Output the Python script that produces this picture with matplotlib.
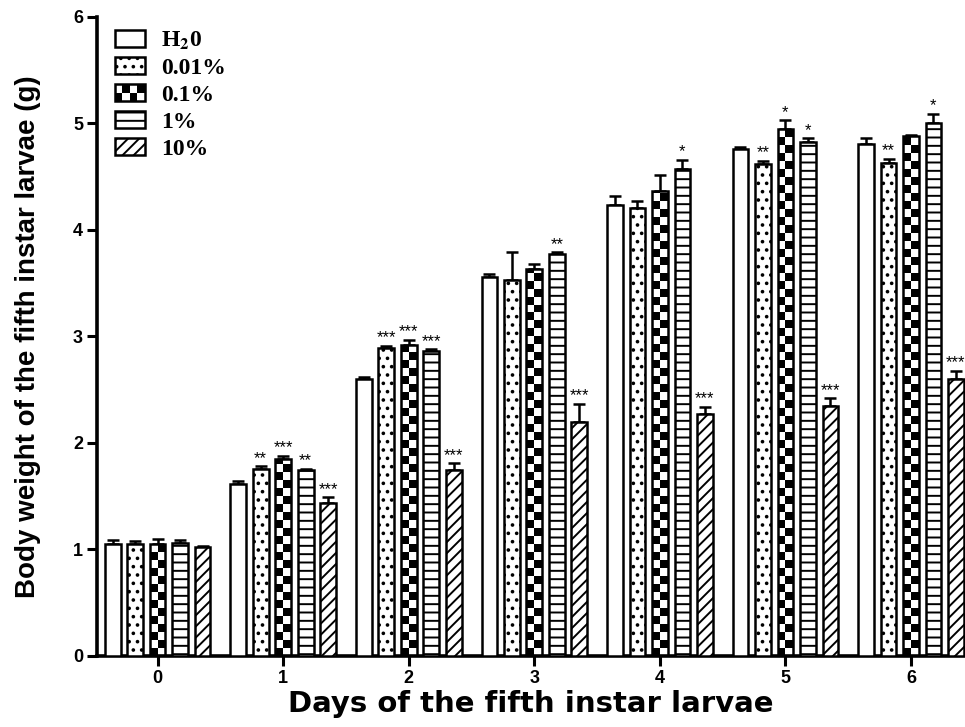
import math
import matplotlib
matplotlib.use("Agg")
import matplotlib.pyplot as plt
from matplotlib.patches import Rectangle
from matplotlib.legend_handler import HandlerBase
import numpy as np

# --- data ---
days = [0, 1, 2, 3, 4, 5, 6]
groups = ["H$_{\\mathbf{2}}$0", "0.01%", "0.1%", "1%", "10%"]

h2o     = [1.05, 1.61, 2.60, 3.56, 4.23, 4.76, 4.81]
c001    = [1.05, 1.76, 2.89, 3.53, 4.21, 4.62, 4.63]
c01     = [1.05, 1.85, 2.92, 3.63, 4.37, 4.95, 4.88]
c1      = [1.06, 1.75, 2.86, 3.77, 4.57, 4.83, 5.00]
c10     = [1.02, 1.44, 1.75, 2.20, 2.27, 2.35, 2.60]

h2o_err  = [0.04, 0.03, 0.02, 0.03, 0.09, 0.02, 0.05]
c001_err = [0.03, 0.02, 0.02, 0.26, 0.06, 0.03, 0.04]
c01_err  = [0.05, 0.03, 0.05, 0.05, 0.15, 0.08, 0.01]
c1_err   = [0.03, 0.01, 0.02, 0.02, 0.09, 0.03, 0.09]
c10_err  = [0.01, 0.05, 0.06, 0.17, 0.07, 0.07, 0.08]

h2o_sig  = ["", "", "", "", "", "", ""]
c001_sig = ["", "**", "***", "", "", "**", "**"]
c01_sig  = ["", "***", "***", "", "", "*", ""]
c1_sig   = ["", "**", "***", "**", "*", "*", "*"]
c10_sig  = ["", "***", "***", "***", "***", "***", "***"]

values = [h2o, c001, c01, c1, c10]
errors = [h2o_err, c001_err, c01_err, c1_err, c10_err]
sigs = [h2o_sig, c001_sig, c01_sig, c1_sig, c10_sig]
hatches = ["", "..", None, "--", "///"]

plt.rcParams["hatch.linewidth"] = 1.4
plt.rcParams["font.family"] = ["Liberation Sans", "DejaVu Sans"]
plt.rcParams["mathtext.fontset"] = "stix"

fig = plt.figure(figsize=(9.65, 7.27), dpi=100)
ax = fig.add_axes([0.1005, 0.0977, 0.8995, 0.879])

step = 0.179
width = 0.125
lw = 1.8
x = np.array(days, dtype=float)


def draw_checker(ax, bars, cell_h=0.075):
    for b in bars:
        bx, bw, bh = b.get_x(), b.get_width(), b.get_height()
        n = int(math.ceil(bh / cell_h))
        cw = bw / 2
        for i in range(n):
            for c in range(2):
                if (i + c) % 2 == 0:
                    hh = min(cell_h, bh - i * cell_h)
                    ax.add_patch(Rectangle((bx + c * cw, i * cell_h), cw, hh,
                                           facecolor="black", edgecolor="none",
                                           zorder=2.5))


for k in range(5):
    xs = x + (k - 2) * step
    if hatches[k] is None:
        bars = ax.bar(xs, values[k], width, facecolor="white", edgecolor="none",
                      zorder=2)
        draw_checker(ax, bars)
        ax.bar(xs, values[k], width, fill=False, edgecolor="black",
               linewidth=lw, zorder=3)
    else:
        ax.bar(xs, values[k], width, facecolor="white", edgecolor="black",
               hatch=hatches[k], linewidth=lw, zorder=3)
    ax.errorbar(xs, values[k], yerr=[np.zeros(len(days)), errors[k]], fmt="none",
                ecolor="black", elinewidth=lw, capsize=4, capthick=lw, zorder=1.5)
    for xi, v, e, s in zip(xs, values[k], errors[k], sigs[k]):
        if s:
            ax.text(xi, v + e + 0.005, s, ha="center", va="bottom", fontsize=12,
                    color="black")

ax.set_xlim(-0.483, 6.43)
ax.set_ylim(0, 6)
ax.set_xticks(days)
ax.set_yticks(range(7))
ax.tick_params(axis="both", direction="out", length=7, width=2.2,
               labelsize=13, pad=3)
for lab in ax.get_xticklabels() + ax.get_yticklabels():
    lab.set_fontweight("bold")
for sp in ["top", "right"]:
    ax.spines[sp].set_visible(False)
for sp in ["left", "bottom"]:
    ax.spines[sp].set_linewidth(2.6)

ax.set_xlabel("Days of the fifth instar larvae", fontsize=21, fontweight="bold",
              family="DejaVu Sans", labelpad=2)
ax.set_ylabel("Body weight of the fifth instar larvae (g)", fontsize=20,
              fontweight="bold", labelpad=23)


# --- legend ---
class CheckerHandler(HandlerBase):
    def create_artists(self, legend, orig_handle, xdescent, ydescent, width,
                       height, fontsize, trans):
        x0, y0 = -xdescent, -ydescent
        arts = [Rectangle((x0, y0), width, height, facecolor="white",
                          edgecolor="none", transform=trans)]
        nc, nr = 4, 2
        cw, ch = width / nc, height / nr
        for r in range(nr):
            for c in range(nc):
                if (r + c) % 2 == 0:
                    arts.append(Rectangle((x0 + c * cw, y0 + r * ch), cw, ch,
                                          facecolor="black", edgecolor="none",
                                          transform=trans))
        arts.append(Rectangle((x0, y0), width, height, fill=False,
                              edgecolor="black", linewidth=lw, transform=trans))
        return arts


handles = []
hmap = {}
for k in range(5):
    if hatches[k] is None:
        p = Rectangle((0, 0), 1, 1, facecolor="white", edgecolor="black")
        hmap[p] = CheckerHandler()
    else:
        p = Rectangle((0, 0), 1, 1, facecolor="white", edgecolor="black",
                      hatch=hatches[k], linewidth=lw)
    handles.append(p)

leg = ax.legend(handles, groups, handler_map=hmap, loc="upper left",
                bbox_to_anchor=(-0.004, 1.013), frameon=False,
                prop={"family": "Liberation Serif", "weight": "bold", "size": 17},
                handlelength=1.27, handleheight=0.72, labelspacing=0.22,
                handletextpad=0.68)

fig.savefig("out.png", dpi=100)
